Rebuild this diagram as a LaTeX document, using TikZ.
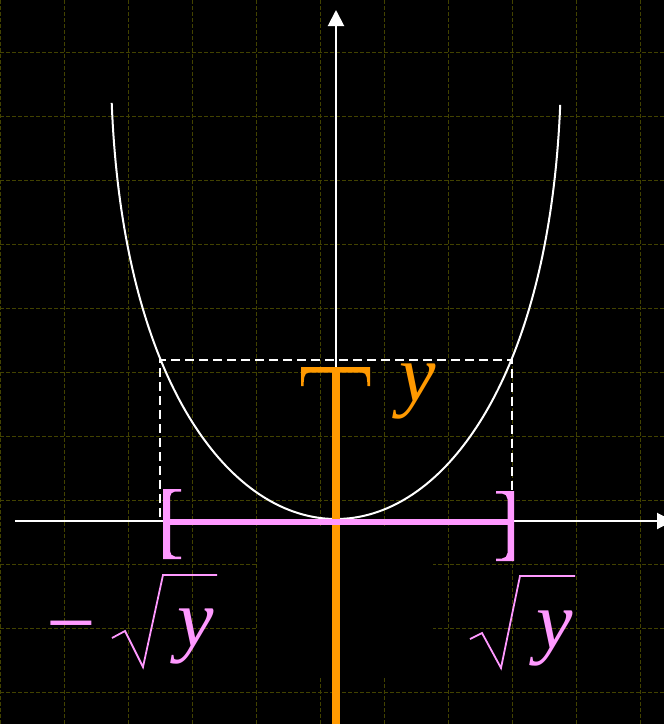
\documentclass[tikz,border=0pt]{standalone}
\usepackage{fontspec}
\setmainfont{Liberation Serif}
\usetikzlibrary{arrows.meta}
\definecolor{gridcol}{RGB}{66,66,0}
\definecolor{pinkc}{RGB}{255,153,255}
\definecolor{orangec}{RGB}{255,153,0}
\tikzset{
  gridline/.style={gridcol, line width=1pt, dash pattern=on 4pt off 2pt},
  axisline/.style={white, line width=2pt, -{Triangle[length=16pt,width=16pt]}},
  curveline/.style={white, line width=2pt},
  dashline/.style={white, line width=2pt, dash pattern=on 9pt off 5pt},
  radical/.style={pinkc, line width=1.8pt, line join=miter},
  bigy/.style={font=\fontsize{82}{90}\selectfont\itshape, inner sep=0pt, anchor=base},
}
\begin{document}
\begin{tikzpicture}[x=1pt,y=-1pt]
\useasboundingbox (0,0) rectangle (664,724);
\fill[black] (0,0) rectangle (664,724);
\begin{scope}
\clip (0,0) rectangle (664,724);
% grid
\foreach \gx in {0,64,...,640} \draw[gridline] (\gx,0) -- (\gx,724);
\foreach \gy in {52,116,...,692} \draw[gridline] (0,\gy) -- (664,\gy);
% black text box occluding grid
\fill[black] (257,526) rectangle (433,677);
% axes
\coordinate (xs) at (15,521);
\coordinate (xe) at (673,521);
\coordinate (ys) at (336,521);
\coordinate (ye) at (336,10);
\draw[axisline] (xs) -- (xe);
\draw[axisline] (ys) -- (ye);
% curve
\draw[curveline] plot[domain=-20.4:20.35, samples=160, variable=\s] ({336+(\s)*(15.7-0.0113*(\s)*(\s))}, {519-(\s)*(\s)});
% dashed rectangle
\coordinate (dl) at (160,517);
\coordinate (dtl) at (160,360);
\coordinate (dtr) at (512,360);
\coordinate (dr) at (512,517);
\draw[dashline] (dl) -- (dtl) -- (dtr) -- (dr);
% orange T
\coordinate (ot) at (336,370);
\coordinate (ob) at (336,730);
\draw[orangec, line width=8pt] (ot) -- (ob);
\fill[orangec] (301,367) -- (370,367) -- (370,386) -- (367.5,386) to[out=95,in=0] (362,372.5) -- (309,372.5) to[out=180,in=85] (303.5,386) -- (301,386) -- cycle;
% pink bar and brackets
\coordinate (pl) at (166,522);
\coordinate (pr) at (511,522);
\draw[pinkc, line width=6.5pt] (pl) -- (pr);
\fill[pinkc] (163,489) -- (181,489) -- (181,491.5) -- (175,491.5) to[out=180,in=90] (170,497) -- (170,551) to[out=-90,in=180] (175,556.5) -- (181,556.5) -- (181,559) -- (163,559) -- cycle;
\fill[pinkc] (514,491) -- (496,491) -- (496,493.5) -- (502,493.5) to[out=0,in=90] (507.5,499) -- (507.5,553) to[out=-90,in=0] (502,558.5) -- (496,558.5) -- (496,561) -- (514,561) -- cycle;
% labels
\node[bigy, text=orangec] (ylab) at (418,401) {y};
\node[font=\fontsize{88}{90}\selectfont, text=pinkc, inner sep=0pt, anchor=base] (minus) at (71,652) {−};
\draw[radical] (112,638) -- (125,631) -- (143,667) -- (163,575) -- (217,575);
\node[bigy, text=pinkc] (yl) at (196,646) {y};
\draw[radical] (470,639) -- (482,633) -- (501,668) -- (520,576) -- (575,576);
\node[bigy, text=pinkc] (yr) at (555,648) {y};
\end{scope}
\end{tikzpicture}
\end{document}
